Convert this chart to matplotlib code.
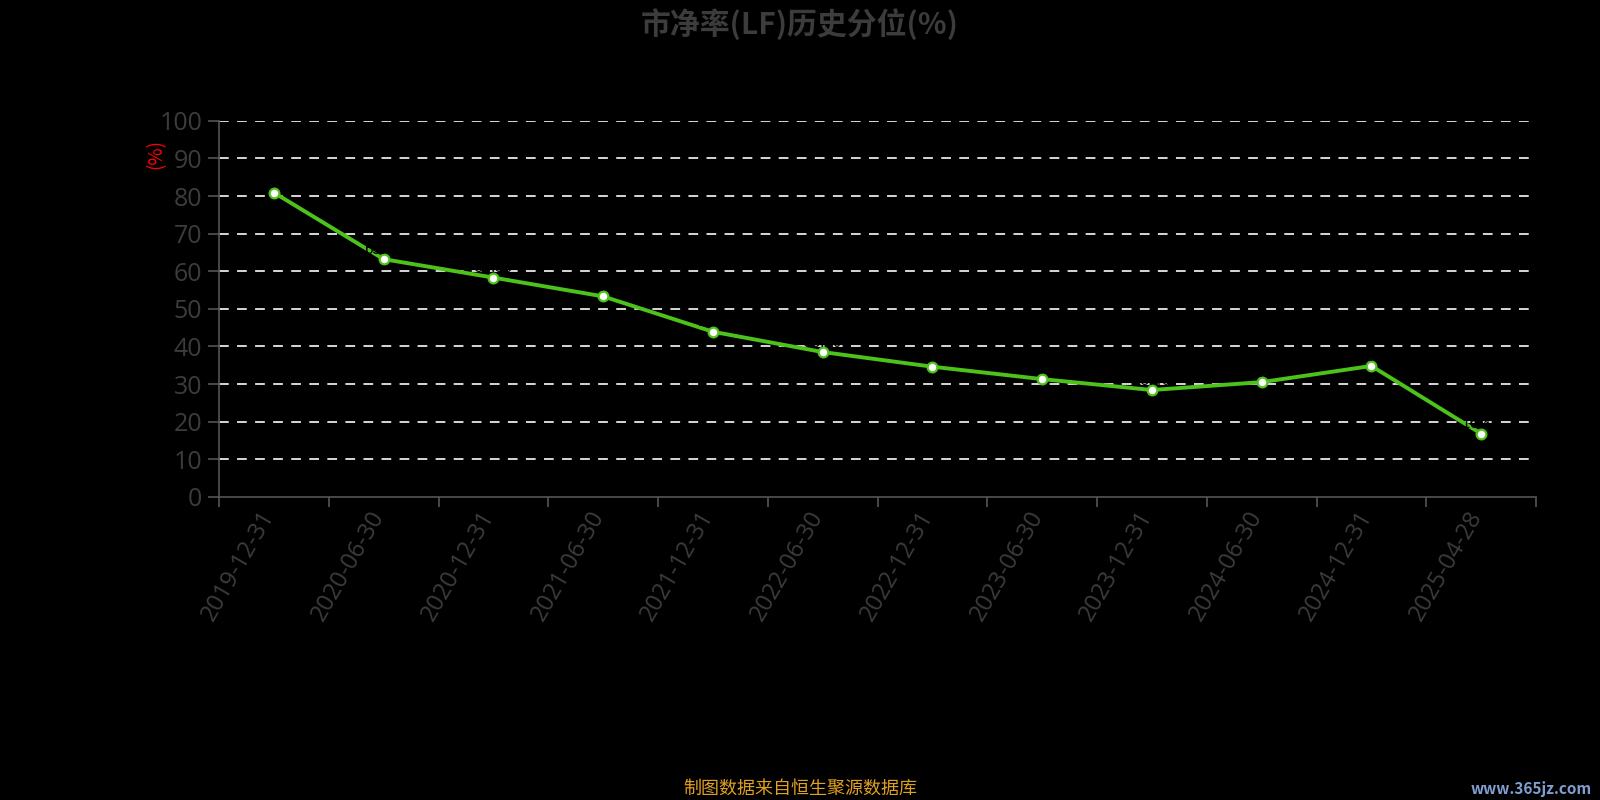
import matplotlib
matplotlib.use("Agg")
import matplotlib.pyplot as plt
import matplotlib.transforms as mtransforms

plt.rcParams['font.family'] = ['Noto Sans CJK SC', 'DejaVu Sans']
plt.rcParams['lines.scale_dashes'] = False

# 数据
dates = ["2019-12-31", "2020-06-30", "2020-12-31", "2021-06-30", "2021-12-31",
         "2022-06-30", "2022-12-31", "2023-06-30", "2023-12-31", "2024-06-30",
         "2024-12-31", "2025-04-28"]
pb_pct = [80.9, 63.2, 58.3, 53.3, 43.9, 38.5, 34.6, 31.3, 28.4, 30.5, 34.8, 16.8]
y_ticks = [0, 10, 20, 30, 40, 50, 60, 70, 80, 90, 100]

title = "市净率(LF)历史分位(%)"
footer = "制图数据来自恒生聚源数据库"

grey = '#3c3c3c'
green = '#4cc21a'
num_font = ['Open Sans', 'Noto Sans CJK SC']

fig = plt.figure(figsize=(16, 8), dpi=100, facecolor='black')
ax = fig.add_axes([0.1369, 0.379, 0.8231, 0.470])
ax.set_facecolor('black')

x = list(range(len(dates)))
ax.plot(x, pb_pct, color=green, lw=2.8, marker='o', markersize=7,
        markerfacecolor='white', markeredgecolor=green, markeredgewidth=1.6, zorder=3)

# 黑色数据标签
for xi, v in zip(x, pb_pct):
    ax.annotate(f"{v:.2f}", (xi, v), xytext=(0, 1), textcoords='offset points',
                ha='center', va='bottom', fontsize=11, color='black', zorder=4)

ax.set_xlim(-0.5, len(dates) - 0.5)
ax.set_ylim(0, 100)

# 网格
for t in y_ticks[1:]:
    ax.axhline(t, color='#e8e8e8', lw=1.3, dashes=(7, 6), zorder=1)

ax.set_yticks(y_ticks)
ax.set_yticklabels([str(t) for t in y_ticks], fontsize=18, color=grey, family=num_font)
ax.tick_params(axis='y', length=8, width=1.2, color='#555555', pad=4)

ax.set_xticks([i - 0.5 for i in range(len(dates) + 1)])
ax.set_xticklabels([])
ax.tick_params(axis='x', which='major', length=7, width=1.2, color='#555555')
ax.set_xticks(x, minor=True)
ax.set_xticklabels(dates, minor=True, rotation=60, ha='right', va='top',
                   fontsize=17, color=grey, family=num_font)
ax.tick_params(axis='x', which='minor', length=0, pad=7)
shift = mtransforms.ScaledTranslation(6 / 100, 0, fig.dpi_scale_trans)
for lbl in ax.get_xticklabels(minor=True):
    lbl.set_transform(lbl.get_transform() + shift)

for s in ['top', 'right']:
    ax.spines[s].set_visible(False)
for s in ['left', 'bottom']:
    ax.spines[s].set_color('#555555')
    ax.spines[s].set_linewidth(1.2)

fig.text(0.0975, 0.808, "(%)", color='red', fontsize=13.5, rotation=90,
         ha='center', va='center')

fig.text(0.5, 0.970, title, ha='center', va='center', fontsize=21.5,
         fontweight='bold', color=grey)
fig.text(0.5, 0.014, footer, ha='center', va='center', fontsize=13,
         color='#e0a020')
fig.text(0.995, 0.014, "www.365jz.com", ha='right', va='center', fontsize=11,
         fontweight='bold', color='#7f9fd0')

fig.savefig("out.png", dpi=100, facecolor='black')
